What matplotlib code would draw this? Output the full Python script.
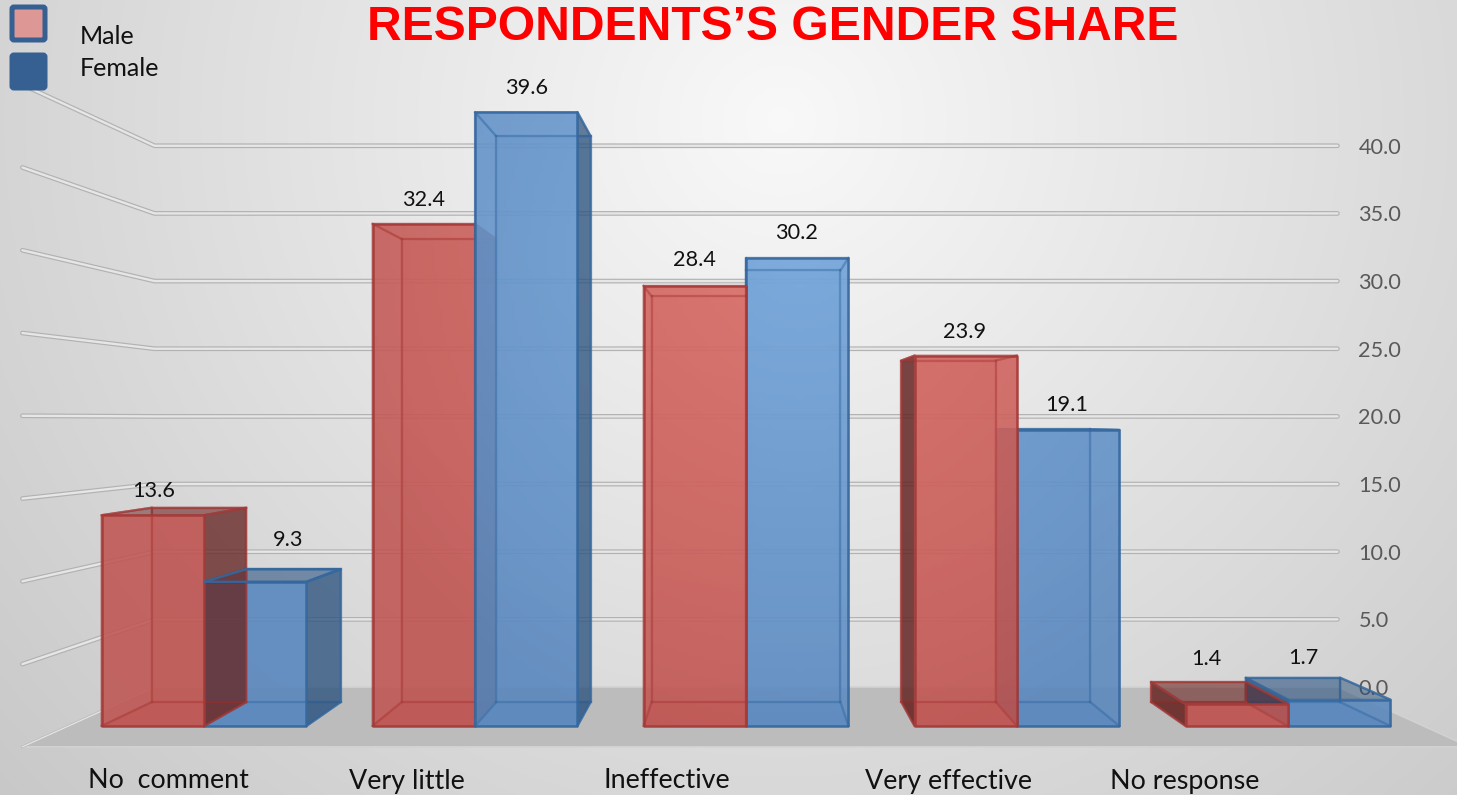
import numpy as np
import matplotlib
matplotlib.use("Agg")
import matplotlib.pyplot as plt
from matplotlib.colors import to_rgba
from matplotlib.patches import FancyBboxPatch, Polygon
from matplotlib.transforms import Affine2D

plt.rcParams["font.family"] = ["Lato", "DejaVu Sans"]

categories = ["No  comment", "Very little", "Ineffective", "Very effective", "No response"]
male = [13.6, 32.4, 28.4, 23.9, 1.4]
female = [9.3, 39.6, 30.2, 19.1, 1.7]
ticks = [0, 5, 10, 15, 20, 25, 30, 35, 40]

W, H = 1457, 795

# Perspective set-up, in data units (x = category, y = value)
BAR_W = 0.378
VP_X, VP_V = 2.0, 19.8
K_BAR = 0.078
K_WALL = 0.127
K_FRONT = -0.068
ROOM_L, ROOM_R = -0.5, 4.5

RED, RED_EDGE, RED_SIDE = "#BF5552", "#A43A38", "#5E2321"
BLUE, BLUE_EDGE, BLUE_SIDE = "#5A88BE", "#35689F", "#2A4F78"

# which series sits on top within each group (0 male, 1 female)
top_series = [0, 1, 0, 0, 0]
label_dx = [[1, 33], [0, 0], [0, -1], [-1, -2], [-30, -36]]
label_dy = [24, 42, 24, 24, 26, 25, 24, 25, 45, 42]
cat_left = [88, 349, 604, 865, 1110]


def project(x, v, k):
    return x + k * (VP_X - x), v + k * (VP_V - v)


fig = plt.figure(figsize=(W / 100, H / 100), dpi=100)
ax = fig.add_axes([0, 0, 1, 1])
ax.axis("off")
xlim = (-204 / 271, (W - 204) / 271)
ylim = ((726 - H) / 15.5, 726 / 15.5)
px = Affine2D().scale(1, -1).translate(0, H)  # layout items in image pixels

# background
yy, xx = np.mgrid[0:H, 0:W]
dist = np.hypot(xx - 780, (yy - 120) * 1.05)
grey = np.clip(0.975 - dist * 0.00018, 0, 1)
ax.imshow(np.dstack([grey] * 3), extent=[*xlim, *ylim], aspect="auto", zorder=0, origin="upper")

# soft highlight used on the front faces, one tint per series
glow = np.clip(1 - np.hypot(xx[::4, ::4] - 800, yy[::4, ::4] - 250) / 520, 0, 1) * 0.42
glow_red = np.dstack([np.full(glow.shape, 1.0), np.full(glow.shape, 0.58), np.full(glow.shape, 0.54), glow])
glow_blue = np.dstack([np.full(glow.shape, 0.6), np.full(glow.shape, 0.8), np.full(glow.shape, 1.0), glow])

# floor
floor = [project(ROOM_L, 0, K_FRONT), project(ROOM_L, 0, K_WALL),
         project(ROOM_R, 0, K_WALL), project(ROOM_R, 0, K_FRONT)]
ax.add_patch(Polygon(floor, closed=True, facecolor="#BCBCBC", edgecolor="#D2D2D2", lw=1.2, zorder=1))

# walls
for t in ticks:
    pts = [project(ROOM_L, t, K_FRONT), project(ROOM_L, t, K_WALL), project(ROOM_R, t, K_WALL)]
    xs, ys = zip(*pts)
    if t > 0:
        ax.plot(xs, ys, color="#B2B2B2", lw=3.4, solid_capstyle="round", zorder=2)
        ax.plot(xs, ys, color="#E6E6E6", lw=1.7, solid_capstyle="round", zorder=2.1)
    else:
        ax.plot(xs[:2], ys[:2], color="#BDBDBD", lw=2, zorder=2)
        ax.plot(xs[:2], ys[:2], color="#E6E6E6", lw=0.8, zorder=2.1)
    lx, ly = pts[2]
    ax.annotate(f"{t:.1f}", (lx, ly), xytext=(21, -2), textcoords="offset pixels", ha="left",
                va="center", fontsize=15.6, color="#595959", zorder=4)


def draw_bar(x0, x1, v, face, edge, side, tint, z):
    def corners(k):
        return project(x0, 0, k), project(x1, 0, k), project(x1, v, k), project(x0, v, k)

    fa, fb, fc, fd = corners(0)
    ba, bb, bc, bd = corners(K_BAR)

    def face_poly(pts, col, alpha, zz):
        ax.add_patch(Polygon(pts, closed=True, facecolor=to_rgba(col, alpha), edgecolor=to_rgba(edge, 0.5),
                             lw=1.6, joinstyle="round", zorder=z + zz))

    face_poly([ba, bb, bc, bd], face, 0.25, 0)
    face_poly([fa, fb, bb, ba], face, 0.55, 0.01)
    # left side shows only right of the vanishing point, right side only left of it
    face_poly([fa, ba, bd, fd], side, 0.8 if x0 > VP_X else 0.0, 0.02)
    face_poly([fb, bb, bc, fc], side, 0.72 if x1 < VP_X else 0.0, 0.03)
    face_poly([fd, fc, bc, bd], side, 0.5 if v < VP_V else 0.0, 0.04)
    ax.add_patch(Polygon([fa, fb, fc, fd], closed=True, facecolor=to_rgba(face, 0.88), edgecolor="none",
                         zorder=z + 0.05))
    shine = ax.imshow(tint, extent=[*xlim, *ylim], aspect="auto", zorder=z + 0.06, origin="upper")
    shine.set_clip_path(Polygon([fa, fb, fc, fd], closed=True, transform=ax.transData))
    # inner edges stay visible through the front face
    for p, q in [(fa, ba), (fb, bb), (fc, bc), (fd, bd), (ba, bb), (bb, bc), (bc, bd), (bd, ba)]:
        ax.plot([p[0], q[0]], [p[1], q[1]], color=edge, alpha=0.4, lw=1.6, zorder=z + 0.065)
    ax.add_patch(Polygon([fa, fb, fc, fd], closed=True, facecolor="none", edgecolor=to_rgba(edge, 0.9),
                         lw=1.8, joinstyle="round", zorder=z + 0.07))


for i in range(len(categories)):
    m_z = 6 if top_series[i] == 0 else 5
    f_z = 6 if top_series[i] == 1 else 5
    draw_bar(i - BAR_W, i, male[i], RED, RED_EDGE, RED_SIDE, glow_red, m_z + i * 2)
    draw_bar(i, i + BAR_W, female[i], BLUE, BLUE_EDGE, BLUE_SIDE, glow_blue, f_z + i * 2)

    ax.annotate(f"{male[i]}", (i - BAR_W / 2, male[i]), xytext=(label_dx[i][0], label_dy[2 * i]),
                textcoords="offset pixels", ha="center", va="center", fontsize=15.6,
                color="#111111", zorder=30)
    ax.annotate(f"{female[i]}", (i + BAR_W / 2, female[i]), xytext=(label_dx[i][1], label_dy[2 * i + 1]),
                textcoords="offset pixels", ha="center", va="center", fontsize=15.6,
                color="#111111", zorder=30)
    ax.text(cat_left[i], 781, categories[i], transform=px, ha="left", va="center", fontsize=19.4,
            color="#111111", zorder=30)

# blue top outline shows through the red side in the first group
top_pts = [project(0, female[0], 0), project(BAR_W, female[0], 0),
           project(BAR_W, female[0], K_BAR), project(0, female[0], K_BAR)]
ax.add_patch(Polygon(top_pts, closed=True, facecolor="none", edgecolor=to_rgba(BLUE_EDGE, 0.9), lw=1.8, zorder=20))

# legend
for y0, fc, name, ty in [(7, "#DD9896", "Male", 36), (55, "#376092", "Female", 69)]:
    ax.add_patch(FancyBboxPatch((12, y0), 33, 33, boxstyle="round,pad=0,rounding_size=2", transform=px,
                                facecolor=fc, edgecolor="#376092", lw=3.6, zorder=31))
    ax.text(80, ty, name, transform=px, ha="left", va="center", fontsize=18, color="#111111", zorder=31)

ax.text(773, 27, "RESPONDENTS\u2019S GENDER SHARE", transform=px, ha="center", va="center",
        fontsize=34.6, fontweight="bold", family="Liberation Sans", color="#FF0000", zorder=31)

ax.set_xlim(*xlim)
ax.set_ylim(*ylim)
fig.savefig("out.png", dpi=100)
